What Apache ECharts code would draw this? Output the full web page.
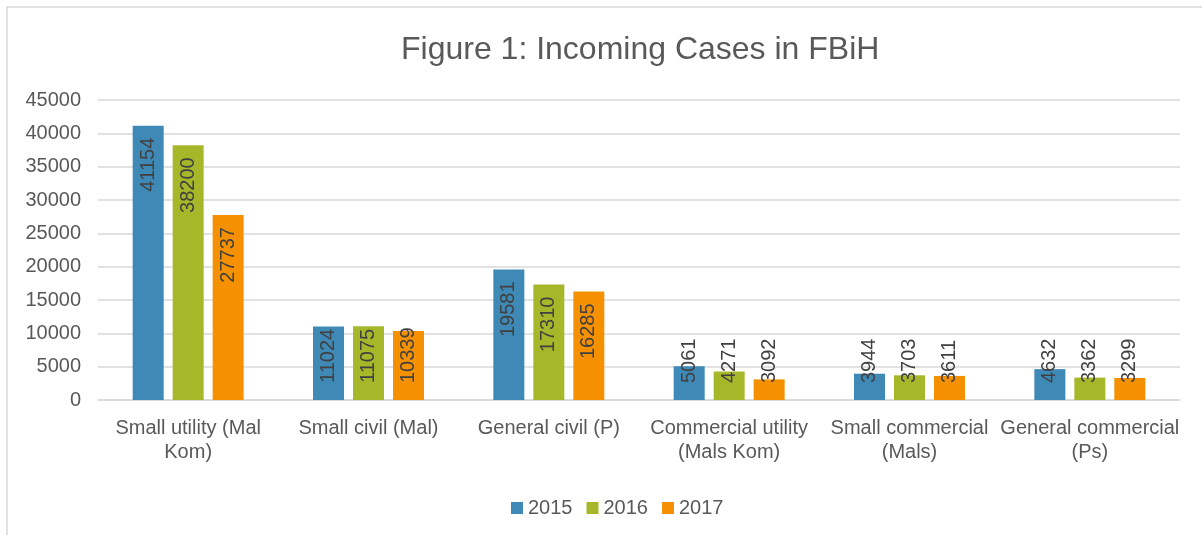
<!DOCTYPE html>
<html>
<head>
<meta charset="utf-8">
<script src="https://cdn.jsdelivr.net/npm/echarts@6/dist/echarts.min.js"></script>
<style>
  html, body { margin: 0; padding: 0; background: #fff; }
  #wrap { width: 1202px; height: 535px; }
</style>
</head>
<body>
<div id="wrap"></div>
<script>
var categories = ['Small utility (Mal\nKom)', 'Small civil (Mal)', 'General civil (P)',
    'Commercial utility\n(Mals Kom)', 'Small commercial\n(Mals)', 'General commercial\n(Ps)'];
var years = ['2015', '2016', '2017'];
var cases2015 = [41154, 11024, 19581, 5061, 3944, 4632];
var cases2016 = [38200, 11075, 17310, 4271, 3703, 3362];
var cases2017 = [27737, 10339, 16285, 3092, 3611, 3299];
var colors = ['#3F89B6', '#A6B82A', '#F59100'];

var font = 'Liberation Sans, Arial, sans-serif';

// label hangs from the bar top; short bars get it anchored near the bottom instead
var topLabel = { position: 'insideTop', distance: 12, align: 'right', verticalAlign: 'middle' };
var lowLabel = { position: 'insideBottom', distance: 17, align: 'left', verticalAlign: 'middle' };

function makeSeries(name, vals) {
    return {
        name: name,
        type: 'bar',
        barWidth: 31,
        barGap: '29%',
        label: {
            show: true,
            rotate: 90,
            fontFamily: font,
            fontSize: 20,
            color: '#404040'
        },
        data: vals.map(function (v) {
            return { value: v, label: v < 12000 ? lowLabel : topLabel };
        })
    };
}

var option = {
    color: colors,
    animation: false,
    title: {
        text: 'Figure 1: Incoming Cases in FBiH',
        left: 396,
        top: 29,
        textStyle: { fontFamily: font, fontSize: 32, fontWeight: 'normal', color: '#595959' }
    },
    legend: {
        data: years,
        left: 506,
        top: 493,
        icon: 'rect',
        itemWidth: 12,
        itemHeight: 12,
        itemGap: 14,
        textStyle: { fontFamily: font, fontSize: 20, color: '#595959' }
    },
    grid: {
        left: 98,
        right: 22,
        top: 100,
        bottom: 135
    },
    xAxis: {
        type: 'category',
        data: categories,
        axisLine: { lineStyle: { color: '#d9d9d9', width: 1.5 } },
        axisTick: { show: false },
        axisLabel: {
            interval: 0,
            margin: 16,
            fontFamily: font,
            fontSize: 20,
            lineHeight: 24,
            color: '#595959'
        }
    },
    yAxis: {
        type: 'value',
        min: 0,
        max: 45000,
        interval: 5000,
        axisLine: { show: false },
        axisTick: { show: false },
        axisLabel: {
            margin: 17,
            fontFamily: font,
            fontSize: 20,
            color: '#595959',
            formatter: function (v) { return String(v); }
        },
        splitLine: { lineStyle: { color: '#d9d9d9', width: 1.5 } }
    },
    graphic: [{
        type: 'rect',
        shape: { x: 7, y: 7, width: 1300, height: 600 },
        style: { fill: 'none', stroke: '#d9d9d9', lineWidth: 1.5 },
        silent: true
    }],
    series: [
        makeSeries(years[0], cases2015),
        makeSeries(years[1], cases2016),
        makeSeries(years[2], cases2017)
    ]
};

var myChart = echarts.init(document.getElementById('wrap'));
myChart.setOption(option);
</script>
</body>
</html>
